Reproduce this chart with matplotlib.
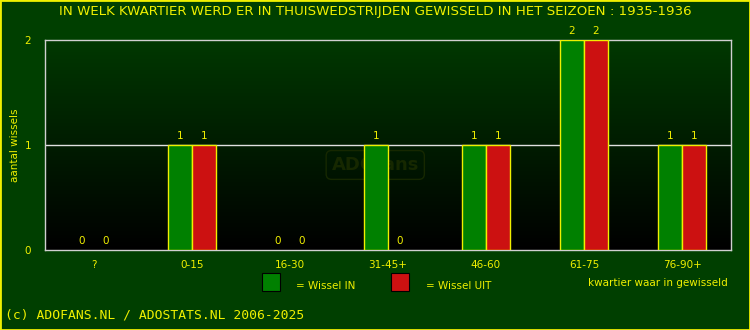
import numpy as np
from matplotlib import pyplot as plt
from matplotlib.patches import Rectangle
from matplotlib.colors import LinearSegmentedColormap

categories = ['?', '0-15', '16-30', '31-45+', '46-60', '61-75', '76-90+']
wissel_in = [0, 1, 0, 1, 1, 2, 1]
wissel_uit = [0, 1, 0, 0, 1, 2, 1]
yticks = [0, 1, 2]

YEL = '#f0f000'
BG = '#003f00'

fig = plt.figure(figsize=(7.5, 3.3), dpi=100, facecolor=BG)
ax = fig.add_axes([45/750, 1 - 250/330, 686/750, 210/330])
ax.set_facecolor('none')

# gradient background in the plot area
grad = np.linspace(0, 1, 256).reshape(-1, 1)
ax.imshow(grad, extent=[-0.5, 6.5, 0, 2], aspect='auto', origin='lower',
          cmap=LinearSegmentedColormap.from_list('g', ['#000000', '#003800']), zorder=0)

x = np.arange(len(categories))
w = 0.245
ec_in = [YEL if v > 0 else 'none' for v in wissel_in]
ec_uit = [YEL if v > 0 else 'none' for v in wissel_uit]
ax.bar(x - w/2, wissel_in, w, color='#008000', edgecolor=ec_in, linewidth=1, zorder=3)
ax.bar(x + w/2, wissel_uit, w, color='#cc1111', edgecolor=ec_uit, linewidth=1, zorder=3)
for xi, v in zip(x, wissel_in):
    ax.text(xi - w/2, v + 0.04, str(v), color=YEL, ha='center', va='bottom', fontsize=7.5, zorder=4)
for xi, v in zip(x, wissel_uit):
    ax.text(xi + w/2, v + 0.04, str(v), color=YEL, ha='center', va='bottom', fontsize=7.5, zorder=4)

ax.axhline(1, color='#e0e0e0', linewidth=1, zorder=2)
ax.set_xlim(-0.5, 6.5)
ax.set_ylim(0, 2)
ax.set_xticks(x)
ax.set_xticklabels(categories)
ax.set_yticks(yticks)
ax.tick_params(length=0, colors=YEL, labelsize=7.5)
ax.tick_params(axis='x', pad=7)
ax.tick_params(axis='y', pad=10)
for s in ax.spines.values():
    s.set_color('#d0d0d0')
    s.set_linewidth(1)
ax.set_ylabel('aantal wissels', color=YEL, fontsize=7.5, labelpad=3)

# watermark
ax.text(2.87, 0.81, 'ADOfans', color='#162800', fontsize=13, fontweight='bold', ha='center',
        va='center', zorder=1,
        bbox=dict(boxstyle='round,pad=0.3', fc='none', ec='#162800'))

fig.text(0.5, 1 - 12/330, 'IN WELK KWARTIER WERD ER IN THUISWEDSTRIJDEN GEWISSELD IN HET SEIZOEN : 1935-1936',
         color=YEL, fontsize=9.6, ha='center', va='center')

# legend
fig.patches.append(Rectangle((262/750, 1 - 291/330), 18/750, 18/330, transform=fig.transFigure,
                             fc='#008000', ec='black', lw=0.8))
fig.text(296/750, 1 - 286/330, '= Wissel IN', color=YEL, fontsize=7.5, va='center')
fig.patches.append(Rectangle((391/750, 1 - 291/330), 18/750, 18/330, transform=fig.transFigure,
                             fc='#cc1111', ec='black', lw=0.8))
fig.text(426/750, 1 - 286/330, '= Wissel UIT', color=YEL, fontsize=7.5, va='center')
fig.text(728/750, 1 - 283/330, 'kwartier waar in gewisseld', color=YEL, fontsize=7.5,
         ha='right', va='center')
fig.text(5/750, 1 - 315/330, '(c) ADOFANS.NL / ADOSTATS.NL 2006-2025', color=YEL,
         fontsize=9.4, family='DejaVu Sans Mono', va='center')

# yellow border
fig.patches.append(Rectangle((0, 0), 1, 1, transform=fig.transFigure, fc='none', ec=YEL, lw=2))

fig.savefig('out.png', dpi=100, facecolor=BG)
